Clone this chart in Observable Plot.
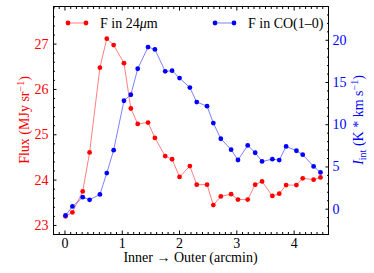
<!DOCTYPE html>
<html><head><meta charset="utf-8">
<script src="https://cdn.jsdelivr.net/npm/d3@7"></script>
<script src="https://cdn.jsdelivr.net/npm/@observablehq/plot@0.6"></script>
<style>
body{margin:0;background:#fff}
#c{position:relative;width:374px;height:273px}
#c svg{position:absolute;left:0;top:0;overflow:visible}
</style>
</head><body><div id="c"></div>
<script>
// distance from inner (arcmin)
const dist = [0.01,0.13,0.31,0.43,0.61,0.73,0.85,1.03,1.15,1.27,1.45,1.57,1.75,1.87,2.0,2.18,2.30,2.48,2.59,2.72,2.90,3.02,3.19,3.32,3.44,3.62,3.74,3.86,4.04,4.15,4.34,4.46];
// F in 24um (MJy/sr)
const flux24 = [23.20,23.29,23.75,24.61,26.48,27.12,26.98,26.58,25.58,25.24,25.27,24.93,24.53,24.46,24.07,24.31,23.90,23.90,23.45,23.64,23.69,23.57,23.57,23.90,23.97,23.65,23.70,23.89,23.89,24.04,24.01,24.06];
// F in CO(1-0) (K km/s)
const fluxCO = [-0.75,0.32,1.42,1.11,1.74,4.27,6.99,12.84,13.55,16.63,19.19,18.92,16.32,16.40,15.52,14.40,12.68,12.20,10.19,8.34,7.05,5.82,7.55,6.68,5.65,5.92,5.81,7.43,6.92,6.45,5.06,4.35];
const xTicks = [0,1,2,3,4];
const yLeftTicks = [23,24,25,26,27];
const yRightTicks = [0,5,10,15,20];
const legendLabels = ["F in 24", "F in CO(1\u20130)"];

const W = 374, H = 273;
const M = {left:53, right:46, top:6, bottom:39};
const font = "'Liberation Serif','Times New Roman',serif";
const xDomain = [-0.2, 4.6];
const xMinor = d3.range(-2, 47).map(i => i/10).filter(v => !xTicks.includes(Math.round(v*10)/10));
const yLMinor = d3.range(114, 140).map(i => i/5).filter(v => !Number.isInteger(Math.round(v*10)/10));
const yRMinor = d3.range(-3, 25).filter(v => v % 5 !== 0);

const rows = dist.map((d,i) => ({x:d, f:flux24[i], c:fluxCO[i]}));

const common = {
  width: W, height: H,
  marginLeft: M.left, marginRight: M.right, marginTop: M.top, marginBottom: M.bottom,
  style: {fontFamily: font, fontSize: "14px", background: "transparent", color: "black"}
};

const p1 = Plot.plot({
  ...common,
  x: {domain: xDomain},
  y: {domain: [22.8, 27.83]},
  marks: [
    Plot.frame({stroke:"black", strokeWidth:1}),
    Plot.axisX(xTicks, {anchor:"bottom", tickSize:-3.5, tickPadding:7, label:null, tickFormat:d=>d}),
    Plot.axisX(xMinor, {anchor:"bottom", tickSize:-2, fill:"none", label:null}),
    Plot.axisX(xTicks, {anchor:"top", tickSize:-3.5, fill:"none", label:null}),
    Plot.axisX(xMinor, {anchor:"top", tickSize:-2, fill:"none", label:null}),
    Plot.axisY(yLeftTicks, {anchor:"left", tickSize:-3.5, tickPadding:8.5, fill:"#ff0000", stroke:"black", label:null, tickFormat:d=>d}),
    Plot.axisY(yLMinor, {anchor:"left", tickSize:-2, fill:"none", label:null}),
    Plot.line(rows, {x:"x", y:"f", stroke:"#ff0000", strokeOpacity:0.5, strokeWidth:1}),
    Plot.dot(rows, {x:"x", y:"f", r:2.4, fill:"#ff0000", stroke:"none"})
  ]
});

const p2 = Plot.plot({
  ...common,
  x: {domain: xDomain, axis: null},
  y: {domain: [-3, 24]},
  marks: [
    Plot.axisY(yRightTicks, {anchor:"right", tickSize:-3.5, tickPadding:7.5, fill:"#0000ff", stroke:"black", label:null, tickFormat:d=>d}),
    Plot.axisY(yRMinor, {anchor:"right", tickSize:-2, fill:"none", label:null}),
    Plot.line(rows, {x:"x", y:"c", stroke:"#0000ff", strokeOpacity:0.5, strokeWidth:1}),
    Plot.dot(rows, {x:"x", y:"c", r:2.4, fill:"#0000ff", stroke:"none"})
  ]
});

const c = document.getElementById("c");
c.appendChild(p1);
c.appendChild(p2);

// Labels and legend
const svg = d3.select(p2);
const g = svg.append("g").attr("font-family", font).attr("font-size", 14).attr("text-anchor", "start");
const cy = (M.top + (H - M.bottom)) / 2;
const cx = (M.left + (W - M.right)) / 2;

g.append("text").attr("x", cx).attr("y", 262).attr("text-anchor","middle").attr("fill","black")
  .text("Inner \u2192 Outer (arcmin)");

const ly = g.append("text").attr("transform", `translate(29,${cy}) rotate(-90)`).attr("text-anchor","middle").attr("fill","#ff0000");
ly.append("tspan").text("Flux (MJy sr");
ly.append("tspan").attr("dy", -5).attr("font-size", 10).text("\u22121");
ly.append("tspan").attr("dy", 5).text(")");

const ry = g.append("text").attr("transform", `translate(363,${cy}) rotate(-90)`).attr("text-anchor","middle").attr("fill","#0000ff");
ry.append("tspan").attr("font-style","italic").text("I");
ry.append("tspan").attr("dy", 3).attr("font-size", 10).text("int");
ry.append("tspan").attr("dy", -3).text(" (K * km s");
ry.append("tspan").attr("dy", -5).attr("font-size", 10).text("\u22121");
ry.append("tspan").attr("dy", 5).text(")");

function legend(x0, x1, tx, color, build) {
  const y = 23;
  g.append("line").attr("x1", x0).attr("x2", x1).attr("y1", y).attr("y2", y).attr("stroke", color).attr("stroke-opacity", 0.5);
  g.append("circle").attr("cx", x0).attr("cy", y).attr("r", 2.4).attr("fill", color);
  g.append("circle").attr("cx", x1).attr("cy", y).attr("r", 2.4).attr("fill", color);
  const t = g.append("text").attr("x", tx).attr("y", y + 4.5).attr("text-anchor","start").attr("fill", "black");
  build(t);
}
legend(68, 86, 100, "#ff0000", t => {
  t.append("tspan").text(legendLabels[0]);
  t.append("tspan").attr("font-style","italic").text("\u03bc");
  t.append("tspan").text("m");
});
legend(215, 234, 248, "#0000ff", t => t.append("tspan").text(legendLabels[1]));
</script>
</body></html>
